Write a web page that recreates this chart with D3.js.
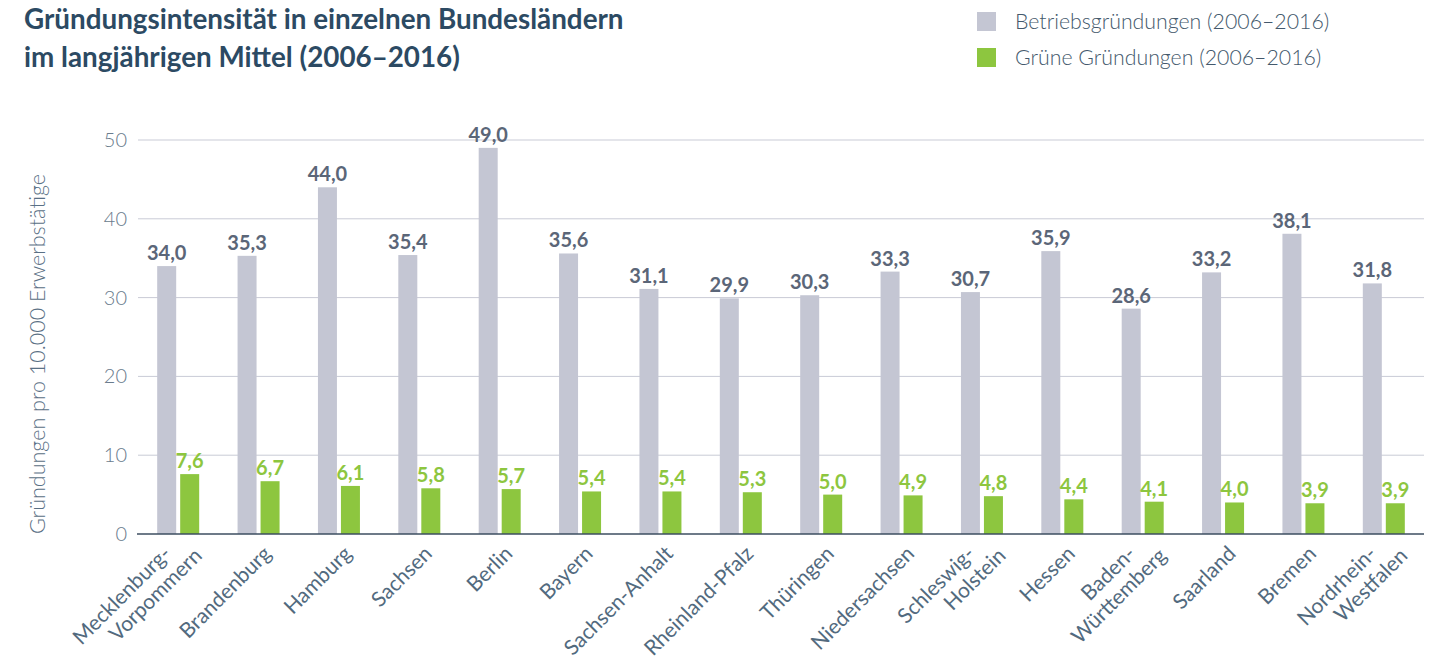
<!DOCTYPE html>
<html>
<head>
<meta charset="utf-8">
<script src="https://cdn.jsdelivr.net/npm/d3@7"></script>
<style>
  body { margin: 0; background: #fff; }
  svg text { font-family: "Lato", "Open Sans", sans-serif; }
</style>
</head>
<body>
<div id="chart"></div>
<script>
// data
var laender = [
  ["Mecklenburg-", "Vorpommern"], ["Brandenburg"], ["Hamburg"], ["Sachsen"], ["Berlin"], ["Bayern"],
  ["Sachsen-Anhalt"], ["Rheinland-Pfalz"], ["Thüringen"], ["Niedersachsen"], ["Schleswig-", "Holstein"],
  ["Hessen"], ["Baden-", "Württemberg"], ["Saarland"], ["Bremen"], ["Nordrhein-", "Westfalen"]
];
var betrieb = [34.0, 35.3, 44.0, 35.4, 49.0, 35.6, 31.1, 29.9, 30.3, 33.3, 30.7, 35.9, 28.6, 33.2, 38.1, 31.8];
var gruen = [7.6, 6.7, 6.1, 5.8, 5.7, 5.4, 5.4, 5.3, 5.0, 4.9, 4.8, 4.4, 4.1, 4.0, 3.9, 3.9];
var yTicks = [0, 10, 20, 30, 40, 50];
var legendNames = ["Betriebsgründungen (2006–2016)", "Grüne Gründungen (2006–2016)"];

var width = 1446, height = 671;
var mLeft = 138, mRight = 1424, mTop = 140, mBottom = 534;
var grey = "#c4c6d3", green = "#8dc63f";

var svg = d3.select("#chart").append("svg")
  .attr("width", width).attr("height", height);

// title
var title = svg.append("text").attr("x", 24).attr("y", 29)
  .attr("font-size", 27.8).attr("font-weight", 700).attr("fill", "#2c4a63");
title.append("tspan").attr("x", 24).text("Gründungsintensität in einzelnen Bundesländern");
title.append("tspan").attr("x", 24).attr("dy", 38).text("im langjährigen Mittel (2006–2016)");

// legend
var legend = svg.append("g");
[grey, green].forEach(function(c, i){
  legend.append("rect").attr("x", 977).attr("y", 12 + i * 36).attr("width", 19).attr("height", 19).attr("fill", c);
  legend.append("text").attr("x", 1015).attr("y", 29 + i * 36)
    .attr("font-size", 21.3).attr("font-weight", 300).attr("fill", "#44596c")
    .text(legendNames[i]);
});

var x = d3.scaleBand().domain(d3.range(laender.length)).range([mLeft, mRight]);
var y = d3.scaleLinear().domain([0, 50]).range([mBottom, mTop]);
var bw = 19, gap = 4;

// grid
svg.append("g").selectAll("line").data(yTicks.slice(1)).enter().append("line")
  .attr("x1", mLeft).attr("x2", mRight)
  .attr("y1", function(d){ return y(d); }).attr("y2", function(d){ return y(d); })
  .attr("stroke", "#c9cbd6").attr("stroke-width", 1);

// y axis
var yAxis = svg.append("g").attr("transform", "translate(" + mLeft + ",0)")
  .call(d3.axisLeft(y).tickValues(yTicks).tickSize(0).tickPadding(11));
yAxis.select(".domain").remove();
yAxis.selectAll("text").attr("font-size", 20).attr("font-family", "Lato").attr("font-weight", 300).attr("fill", "#6a7c8d");

svg.append("text")
  .attr("transform", "translate(45," + 354 + ") rotate(-90)")
  .attr("text-anchor", "middle").attr("font-size", 21.5).attr("font-family", "Open Sans").attr("font-weight", 300)
  .attr("fill", "#5a7085").text("Gründungen pro 10.000 Erwerbstätige");

// bars
var cx = function(i){ return x(i) + x.bandwidth() / 2; };
svg.append("g").selectAll("rect").data(betrieb).enter().append("rect")
  .attr("x", function(d, i){ return cx(i) - gap / 2 - bw; })
  .attr("y", function(d){ return y(d); })
  .attr("width", bw).attr("height", function(d){ return mBottom - y(d); })
  .attr("fill", grey);
svg.append("g").selectAll("rect").data(gruen).enter().append("rect")
  .attr("x", function(d, i){ return cx(i) + gap / 2; })
  .attr("y", function(d){ return y(d); })
  .attr("width", bw).attr("height", function(d){ return mBottom - y(d); })
  .attr("fill", green);

var fmt = function(d){ return d.toFixed(1).replace(".", ","); };
svg.append("g").selectAll("text").data(betrieb).enter().append("text")
  .attr("x", function(d, i){ return cx(i) - gap / 2 - bw / 2; })
  .attr("y", function(d){ return y(d) - 6; })
  .attr("text-anchor", "middle").attr("font-size", 20).attr("font-weight", 700)
  .attr("fill", "#5b6678").text(fmt);
svg.append("g").selectAll("text").data(gruen).enter().append("text")
  .attr("x", function(d, i){ return cx(i) + gap / 2 + bw / 2; })
  .attr("y", function(d){ return y(d) - 6; })
  .attr("text-anchor", "middle").attr("font-size", 20).attr("font-weight", 700)
  .attr("fill", green).text(fmt);

// baseline
svg.append("line").attr("x1", mLeft - 1).attr("x2", mRight)
  .attr("y1", mBottom).attr("y2", mBottom)
  .attr("stroke", "#3c4e60").attr("stroke-width", 1.5);

// x labels: each line end-anchored, two-line labels shifted sideways
var xg = svg.append("g");
laender.forEach(function(lines, i){
  var offs = lines.length == 1 ? [14] : [-6, 25];
  lines.forEach(function(s, j){
    xg.append("text")
      .attr("transform", "translate(" + (cx(i) + offs[j]) + "," + (555 + j * 2) + ") rotate(-45)")
      .attr("text-anchor", "end").attr("font-size", 21).attr("font-family", "Open Sans")
      .attr("fill", "#526a7e").text(s);
  });
});
</script>
</body>
</html>
